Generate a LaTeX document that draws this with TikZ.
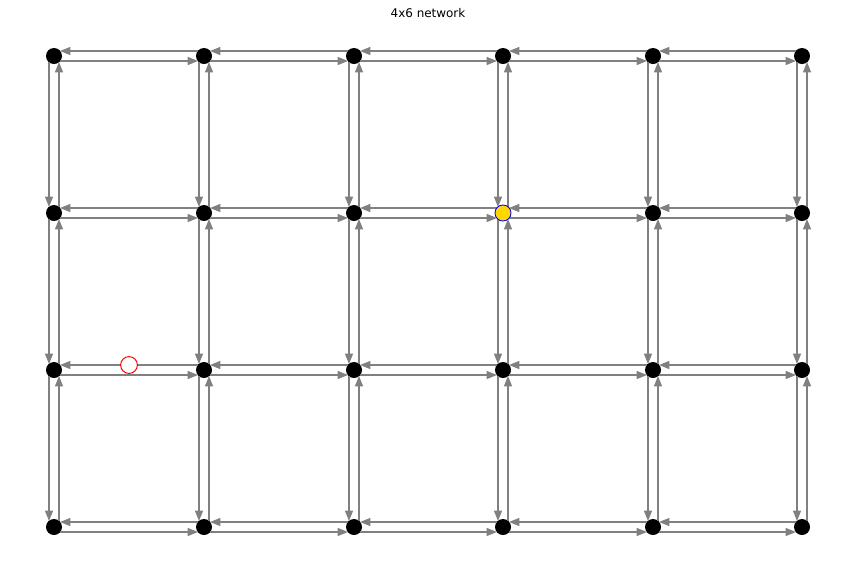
\documentclass[tikz,border=0pt]{standalone}
\usepackage{fontspec}
\setmainfont{DejaVu Sans}
\usetikzlibrary{arrows.meta}
\definecolor{edgegray}{RGB}{128,128,128}
\definecolor{goldnode}{RGB}{255,215,0}
\tikzset{
  vertex/.style={circle,fill=black,inner sep=0pt,minimum size=0.4cm},
  goal/.style={circle,fill=goldnode,draw=blue,line width=0.6pt,inner sep=0pt,minimum size=0.4cm},
  marker/.style={circle,fill=white,draw=red,line width=0.7pt,inner sep=0pt,minimum size=0.42cm},
  link/.style={draw=edgegray,line width=0.9pt,-{Triangle[length=0.26cm,width=0.2cm]},shorten <=0.15cm,shorten >=0.15cm}
}
\begin{document}
\begin{tikzpicture}[x=0.025cm,y=-0.025cm]
		\useasboundingbox (0,0) rectangle (856,568);
		\node (title) at (428,13) {\fontsize{8.5pt}{10pt}\selectfont 4x6 network};
		\foreach \r/\y in {0/56,1/213,2/370,3/527}
		  \foreach \c/\x in {0/54,1/204,2/354,3/503,4/653,5/802}
		    \node[vertex] (n-\r-\c) at (\x,\y) {};
		\foreach \r in {0,1,2,3}
		  \foreach \c/\e in {0/1,1/2,2/3,3/4,4/5}{
		    \draw[link] ([yshift=0.125cm]n-\r-\e.center) -- ([yshift=0.125cm]n-\r-\c.center);
		    \draw[link] ([yshift=-0.125cm]n-\r-\c.center) -- ([yshift=-0.125cm]n-\r-\e.center);
		  }
		\foreach \r/\s in {0/1,1/2,2/3}
		  \foreach \c in {0,...,5}{
		    \draw[link] ([xshift=-0.125cm]n-\r-\c.center) -- ([xshift=-0.125cm]n-\s-\c.center);
		    \draw[link] ([xshift=0.125cm]n-\s-\c.center) -- ([xshift=0.125cm]n-\r-\c.center);
		  }
		\node[goal] (target) at (n-1-3) {};
		\node[marker] (agent) at (129,365) {};
\end{tikzpicture}
\end{document}
